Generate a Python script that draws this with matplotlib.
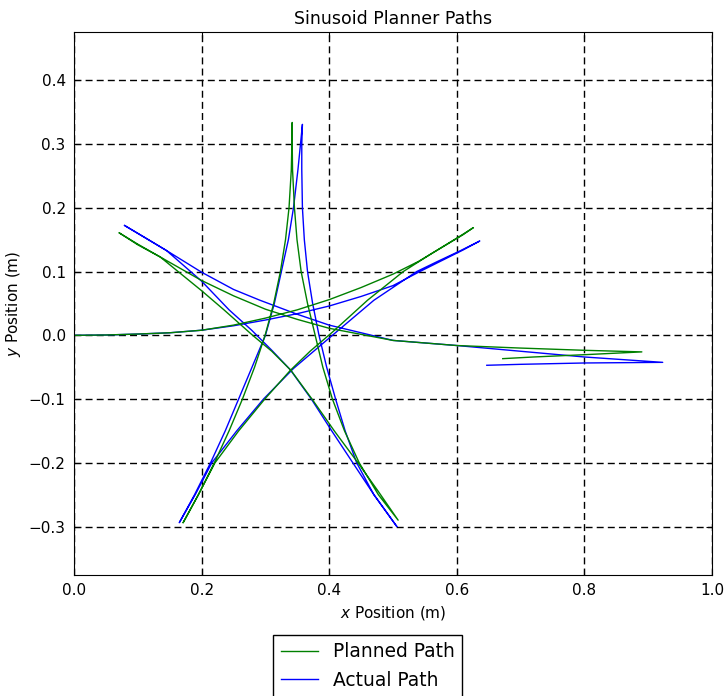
import numpy as np
import matplotlib
matplotlib.use('Agg')
import matplotlib.pyplot as plt

# planned path, leg by leg (x, y in metres)
planned_x = [0.0, 0.05, 0.1, 0.15, 0.2, 0.25, 0.3, 0.35, 0.4, 0.45, 0.5, 0.54, 0.58, 0.61, 0.626,   # leg 1
             0.604, 0.56, 0.516, 0.46, 0.405, 0.37, 0.339, 0.299, 0.258, 0.221, 0.195, 0.171,      # leg 2
             0.195, 0.220, 0.243, 0.264, 0.283, 0.2995, 0.313, 0.3235, 0.3315, 0.337, 0.3406,
             0.3415, 0.342,                                                                        # leg 3
             0.342, 0.3425, 0.3455, 0.3495, 0.356, 0.366, 0.378, 0.39, 0.405, 0.424, 0.447,
             0.477, 0.508,                                                                         # leg 4
             0.477, 0.445, 0.408, 0.373, 0.34, 0.31, 0.28, 0.235, 0.2, 0.135, 0.1, 0.0705,         # leg 5
             0.1, 0.135, 0.2, 0.25, 0.3, 0.35, 0.4, 0.5, 0.6, 0.7, 0.8, 0.89,                      # leg 6
             0.8, 0.72, 0.672]                                                                     # leg 7
planned_y = [0.0, 0.0005, 0.002, 0.004, 0.008, 0.016, 0.027, 0.040, 0.056, 0.075, 0.096, 0.116, 0.140, 0.158, 0.169,
             0.155, 0.128, 0.1, 0.055, 0.005, -0.025, -0.055, -0.1, -0.15, -0.2, -0.25, -0.294,
             -0.25, -0.2, -0.15, -0.1, -0.05, 0.0, 0.05, 0.1, 0.15, 0.2, 0.26,
             0.3, 0.334,
             0.3, 0.26, 0.2, 0.15, 0.1, 0.05, 0.0, -0.05, -0.1, -0.15, -0.2,
             -0.25, -0.29,
             -0.245, -0.2, -0.15, -0.1, -0.055, -0.025, 0.0, 0.04, 0.07, 0.123, 0.143, 0.161,
             0.142, 0.123, 0.086, 0.062, 0.041, 0.025, 0.011, -0.008, -0.016, -0.02, -0.0235, -0.026,
             -0.0304, -0.034, -0.0366]

# actual (tracked) path
actual_x = [0.0, 0.05, 0.1, 0.15, 0.2, 0.25, 0.3, 0.35, 0.4, 0.45, 0.5, 0.54, 0.58, 0.61, 0.636,
            0.604, 0.57, 0.537, 0.47, 0.405, 0.344, 0.297, 0.255, 0.216, 0.19, 0.165,
            0.189, 0.214, 0.237, 0.258, 0.279, 0.300, 0.314, 0.325, 0.336, 0.344, 0.351,
            0.355, 0.358,
            0.357, 0.357, 0.358, 0.361, 0.366, 0.374, 0.384, 0.396, 0.41, 0.425, 0.443,
            0.47, 0.506,
            0.47, 0.437, 0.404, 0.372, 0.339, 0.31, 0.2785, 0.243, 0.2, 0.145, 0.11, 0.079,
            0.11, 0.145, 0.2, 0.25, 0.2915, 0.35, 0.4, 0.5, 0.6, 0.7, 0.8, 0.9227,
            0.8, 0.7, 0.647]
actual_y = [0.0, 0.0005, 0.002, 0.004, 0.008, 0.015, 0.024, 0.034, 0.046, 0.061, 0.078, 0.099, 0.119, 0.134, 0.148,
            0.132, 0.116, 0.1, 0.055, 0.0, -0.052, -0.1, -0.15, -0.2, -0.25, -0.294,
            -0.25, -0.2, -0.15, -0.1, -0.05, 0.0, 0.05, 0.1, 0.15, 0.2, 0.26,
            0.3, 0.331,
            0.3, 0.26, 0.2, 0.15, 0.1, 0.05, 0.0, -0.05, -0.1, -0.15, -0.2,
            -0.25, -0.30,
            -0.25, -0.2, -0.15, -0.1, -0.054, -0.0235, 0.008, 0.04, 0.085, 0.133, 0.154, 0.1725,
            0.154, 0.133, 0.099, 0.072, 0.055, 0.033, 0.016, -0.008, -0.016, -0.025, -0.034, -0.0424,
            -0.0434, -0.0455, -0.047]

fig = plt.figure(figsize=(7.27, 6.96), dpi=100)
ax = fig.add_axes([0.1018, 0.1739, 0.8776, 0.7802])

actualLine, = ax.plot(actual_x, actual_y, color='b', linewidth=1, label='Actual Path')
plannedLine, = ax.plot(planned_x, planned_y, color='g', linewidth=1, label='Planned Path')

ax.set_xlim(0.0, 1.0)
ax.set_ylim(-0.376, 0.476)
ax.set_xticks(np.arange(0.0, 1.01, 0.2))
ax.set_yticks(np.arange(-0.3, 0.41, 0.1))
ax.grid(True, color='k', linestyle=(0, (5, 3)), linewidth=1)
ax.tick_params(direction='in', top=True, right=True, labelsize=11, length=4, pad=6)
for sp in ax.spines.values():
    sp.set_color('k')

ax.set_title('Sinusoid Planner Paths', fontsize=12.5)
ax.set_xlabel(r'$x$ Position (m)', fontsize=11)
ax.set_ylabel(r'$y$ Position (m)', fontsize=11)

leg = fig.legend([plannedLine, actualLine], ['Planned Path', 'Actual Path'],
                 loc='upper center', bbox_to_anchor=(0.506, 0.0876),
                 fontsize=13.4, fancybox=False, framealpha=1, edgecolor='k',
                 borderaxespad=0, handlelength=2.0)
leg.get_frame().set_linewidth(1)

fig.savefig('out.png', dpi=100)
